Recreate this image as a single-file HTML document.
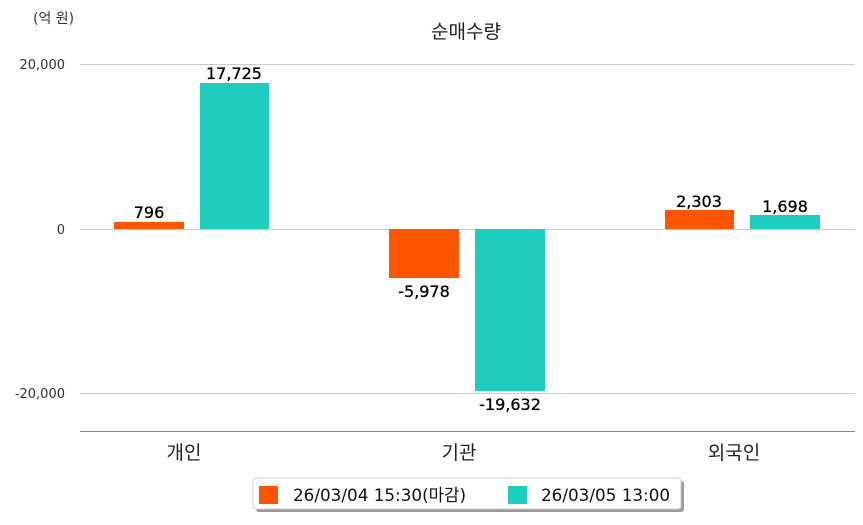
<!DOCTYPE html>
<html><head><meta charset="utf-8"><style>
body{margin:0;background:#fff;width:863px;height:520px;overflow:hidden}
svg text{font-family:"DejaVu Sans","Noto Sans CJK KR",sans-serif}
</style></head><body>
<svg width="863" height="520" xmlns="http://www.w3.org/2000/svg">
<text x="33" y="23" font-size="14" fill="#333">(억 원)</text>
<text x="466" y="38" font-size="19" fill="#222" text-anchor="middle">순매수량</text>
<g stroke="#ccc" stroke-width="1">
<line x1="80" y1="64.5" x2="855" y2="64.5"/>
<line x1="80" y1="229.5" x2="855" y2="229.5"/>
<line x1="80" y1="393.5" x2="855" y2="393.5"/>
</g>
<line x1="80" y1="431.5" x2="855" y2="431.5" stroke="#888" stroke-width="1"/>
<g font-size="13" fill="#333" text-anchor="end">
<text x="65" y="69">20,000</text>
<text x="65" y="234">0</text>
<text x="65" y="398">-20,000</text>
</g>
<rect x="114" y="222" width="70" height="7" fill="#ff5400"/>
<rect x="200" y="83" width="69" height="146" fill="#1ecdbd"/>
<rect x="389" y="229" width="70" height="49" fill="#ff5400"/>
<rect x="475" y="229" width="70" height="162" fill="#1ecdbd"/>
<rect x="665" y="210" width="69" height="19" fill="#ff5400"/>
<rect x="750" y="215" width="70" height="14" fill="#1ecdbd"/>
<g font-size="16" fill="#000" text-anchor="middle" stroke="#000" stroke-width="0.3">
<text x="149" y="218">796</text>
<text x="234" y="79">17,725</text>
<text x="424" y="297">-5,978</text>
<text x="510" y="410">-19,632</text>
<text x="699" y="207">2,303</text>
<text x="785" y="212">1,698</text>
</g>
<g font-size="19" fill="#222" text-anchor="middle">
<text x="184" y="459">개인</text>
<text x="459" y="459">기관</text>
<text x="734" y="459">외국인</text>
</g>
<rect x="256" y="481" width="428" height="31" fill="#999" rx="3"/>
<rect x="253" y="478" width="428" height="31" fill="#fff" stroke="#ccc" rx="3"/>
<rect x="259" y="486" width="19" height="18" fill="#ff5400"/>
<text x="293" y="501" font-size="16.8" fill="#111">26/03/04 15:30(마감)</text>
<rect x="508" y="486" width="19" height="18" fill="#1ecdbd"/>
<text x="541" y="501" font-size="16.8" fill="#111">26/03/05 13:00</text>
</svg>
</body></html>
